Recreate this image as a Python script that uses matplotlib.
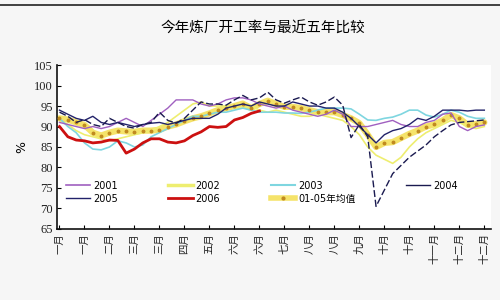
import matplotlib
matplotlib.use("Agg")
import matplotlib.pyplot as plt
from matplotlib.lines import Line2D

plt.rcParams['font.family'] = ['DejaVu Sans', 'Noto Sans CJK SC']

weeks = list(range(52))
month_labels = ['一月', '一月', '二月', '三月', '三月', '四月', '五月', '六月', '六月',
                '七月', '八月', '八月', '九月', '十月', '十月', '十一月', '十二月', '十二月']
label_weeks = list(range(0, 52, 3))

y2001 = [91, 90.5, 90, 89.5, 90, 89.5, 90, 91, 92, 91, 90, 91.5, 93, 94.5, 96.5, 96.5, 96.5,
         95.5, 95, 95.5, 96.5, 97, 97, 96.5, 95.5, 95, 94.5, 95, 94, 93.5, 93, 92.5, 93, 94,
         93, 90, 90, 90, 90.5, 91, 91.5, 90.5, 90, 90, 91, 91.5, 93, 93.3, 90, 89, 90, 90.4]
y2002 = [91.5, 90.5, 89, 88, 87.5, 87, 86.5, 87, 87.5, 88, 88.5, 89, 90, 91, 92.5, 94, 95.5,
         96, 95, 95, 95, 94.5, 94.5, 95, 94, 93.5, 94, 93.5, 93, 92.5, 92.5, 93, 92.5, 92,
         91.5, 90, 88, 85, 83, 82, 81, 82.5, 85, 87, 88.5, 89.5, 90.5, 91.5, 91, 90, 89.5, 90]
y2003 = [92, 90, 88.5, 86, 84.5, 84.3, 85, 86.5, 86, 85, 85.5, 87.5, 88.5, 89.5, 90.5, 91.5,
         92.5, 92.5, 93, 93.5, 93.5, 94, 94.5, 94, 93.5, 93.5, 93.5, 93.3, 93.3, 93.2, 93.5,
         94, 94.5, 94.5, 94.5, 94.3, 93, 91.6, 91.5, 92, 92.3, 93, 94, 94, 92.8, 92.3, 93, 94,
         93.5, 92.5, 92, 92]
y2004 = [93.5, 92.5, 91, 91.7, 90.5, 90, 92, 91, 90, 89.6, 90.5, 91, 93.5, 91.5, 90.8, 92, 94,
         96, 95.5, 95.5, 95.2, 96.5, 97.6, 96.5, 97, 98.4, 96.5, 95.7, 96.5, 97.2, 96, 95.2,
         96, 97.2, 95.2, 87.3, 90.5, 87.5, 70.5, 74.5, 78.5, 80.5, 82.5, 84, 85.5, 87.5, 89,
         90.4, 91, 91.2, 91.4, 91.6]
y2005 = [94, 93, 92, 91.5, 92.5, 91, 90.5, 91, 90.5, 90, 90.5, 90.8, 91, 90.5, 91, 91.5, 92,
         92, 92, 93, 94.5, 95, 95.5, 95, 96, 95.5, 95, 95, 96, 95.5, 95, 95, 94.5, 94.5, 93.5,
         92, 90, 88, 86, 88, 89, 89.5, 90.5, 92, 91.5, 92.5, 94, 94, 94, 93.8, 94, 94]
y2006 = [90, 87.5, 86.7, 86.5, 86, 86.2, 86.7, 86.6, 83.5, 84.5, 86, 87, 87, 86.2, 86, 86.5,
         87.8, 88.7, 90, 89.8, 90, 91.6, 92.2, 93.2, 93.8]
yavg = [92, 91.7, 91, 90.4, 88.5, 87.8, 88.5, 89, 88.8, 88.7, 89, 89, 89.2, 90, 90.5, 91.3, 92,
        92.5, 93.2, 94, 94.5, 95, 95.6, 94.5, 95.5, 96.3, 95.5, 94.8, 94.8, 94.5, 94, 93.5,
        93.5, 93.5, 92.8, 92, 90.8, 88, 85, 86, 86.2, 87.2, 88.2, 89, 90, 90.5, 91.5, 92.8,
        92, 90.4, 90.6, 91]

fig = plt.figure(figsize=(5, 3), dpi=100, facecolor='#f6f6f6')
ax = fig.add_axes([0.114, 0.237, 0.868, 0.546])
ax.set_facecolor('white')

ax.plot(weeks, yavg, color='#f5e36a', lw=4.5, solid_capstyle='round', zorder=2)
ax.plot(weeks, yavg, color='#c08a20', lw=0, marker='o', ms=1.8, zorder=3)
ax.plot(weeks, y2002, color='#eeee70', lw=1.2, zorder=2)
ax.plot(weeks, y2003, color='#7fd6e0', lw=1.2, zorder=2)
ax.plot(weeks, y2001, color='#a060c0', lw=1.0, zorder=4)
ax.plot(weeks, y2005, color='#22226a', lw=1.0, zorder=4)
ax.plot(weeks, y2004, color='#1a1a50', lw=1.0, ls=(0, (5, 2)), zorder=4)
ax.plot(weeks[:len(y2006)], y2006, color='#cc1010', lw=2.0, zorder=5)

ax.set_xlim(-0.3, 51.8)
ax.set_ylim(65, 105)
ax.set_yticks(range(65, 106, 5))
ax.set_yticklabels([str(v) for v in range(65, 106, 5)], family='Liberation Serif',
                   fontsize=9, color='#222222')
ax.set_xticks(label_weeks)
ax.set_xticklabels(month_labels, rotation=90, fontsize=7.5, color='#222222',
                   family=['Noto Sans CJK SC', 'DejaVu Sans'])
ax.tick_params(axis='both', direction='in', length=3, width=0.8, pad=3)
for s in ['top', 'right']:
    ax.spines[s].set_visible(False)
for s in ['left', 'bottom']:
    ax.spines[s].set_linewidth(1.2)
    ax.spines[s].set_color('#111111')

ax.set_ylabel('%', fontsize=9, rotation=90, labelpad=4)

h2001 = Line2D([], [], color='#a060c0', lw=1.2)
h2002 = Line2D([], [], color='#eeee70', lw=2.5)
h2003 = Line2D([], [], color='#7fd6e0', lw=1.5)
h2004 = Line2D([], [], color='#1a1a50', lw=1.0)
h2005 = Line2D([], [], color='#22226a', lw=1.0)
h2006 = Line2D([], [], color='#cc1010', lw=2.0)
havg = Line2D([], [], color='#f5e36a', lw=4, marker='o', ms=2, mfc='#c08a20', mec='#c08a20')
handles = [h2001, h2005, h2002, h2006, h2003, havg, h2004]
labels = ['2001', '2005', '2002', '2006', '2003', '01-05年均值', '2004']
ax.legend(handles, labels, ncol=4, frameon=False, loc='lower left',
          bbox_to_anchor=(0.0, 0.10), fontsize=7, handlelength=2.5,
          handletextpad=0.3, columnspacing=5.2, labelspacing=0.3,
          prop={'family': ['DejaVu Sans', 'Noto Sans CJK SC'], 'size': 7})

fig.text(0.525, 0.905, '今年炼厂开工率与最近五年比较', ha='center', va='center',
         fontsize=10.5, family=['Noto Sans CJK SC', 'DejaVu Sans'])
fig.add_artist(Line2D([0, 1], [0.985, 0.985], color='#222222', lw=1.2,
                      transform=fig.transFigure))

fig.savefig('out.png', dpi=100, facecolor=fig.get_facecolor())
